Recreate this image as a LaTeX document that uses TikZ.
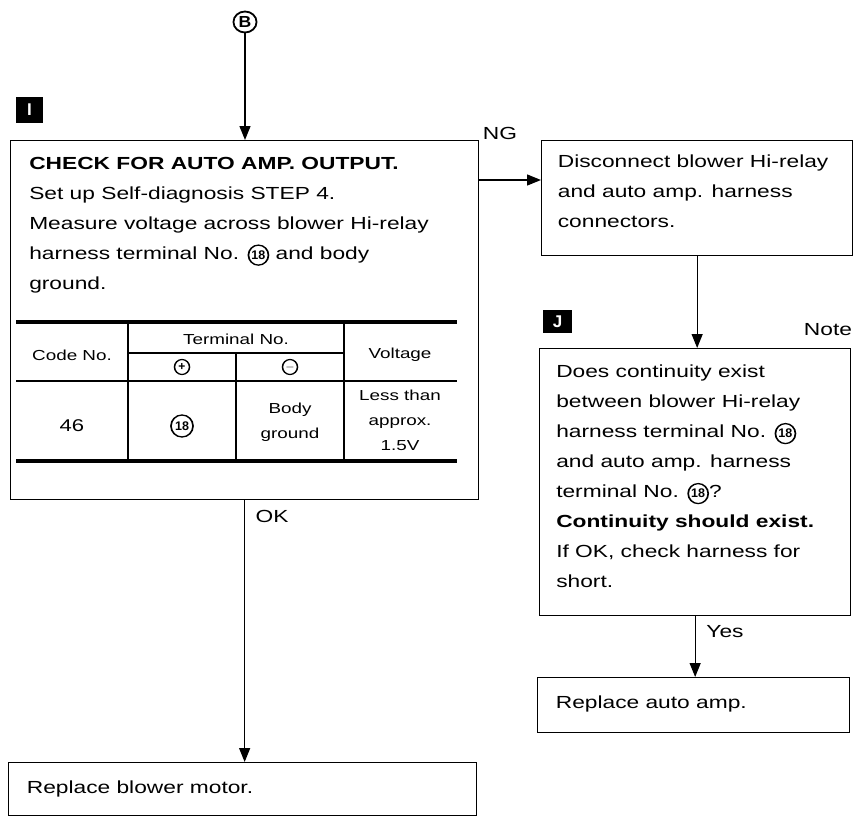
\documentclass[tikz,border=0pt]{standalone}
\usepackage{fontspec}
\setmainfont{Liberation Sans}
\usepackage{tikz}
\usetikzlibrary{arrows.meta}

\newcommand{\cnum}[2][20pt]{\tikz[baseline=(c.base)]\node[circle,draw,line width=1.3pt,minimum size=#1,inner sep=0pt,xscale=0.77,font=\bfseries\fontsize{12.5}{12.5}\selectfont] (c) {#2};}
\newcommand{\csign}[1]{\tikz[baseline=(s.base)]\node[circle,draw,line width=1.2pt,minimum size=15pt,inner sep=0pt,xscale=0.77,font=\bfseries\fontsize{12}{12}\selectfont] (s) {#1};}

\begin{document}
\begin{tikzpicture}[x=1pt,y=-1pt,>={Triangle[length=14pt,width=11pt]},line width=1.3pt,
    box/.style={draw,inner sep=0pt,anchor=north west},
    txt/.style={anchor=north west,align=left,inner sep=0pt,xscale=1.3,font=\fontsize{17.5}{30}\selectfont},
    cell/.style={align=center,inner sep=0pt,xscale=1.3,font=\fontsize{14.5}{25}\selectfont},
    lbl/.style={inner sep=0pt,xscale=1.3,font=\fontsize{17.5}{20}\selectfont},
    stepmark/.style={fill=black,text=white,inner sep=0pt,font=\bfseries\fontsize{17}{17}\selectfont}]
    \useasboundingbox (0,0) rectangle (859,817);
    \node[circle,draw,line width=1.8pt,minimum size=21pt,inner sep=0pt,xscale=1.1,font=\bfseries\fontsize{16}{16}\selectfont] (B) at (245,22) {B};
    \node[stepmark,minimum width=27pt,minimum height=26pt] (mI) at (29.5,110) {I};
    \node[box,minimum width=468pt,minimum height=359pt] (chk) at (10,140) {};
    \node[txt] (chk-t) at (29,157) {\textbf{CHECK FOR AUTO AMP. OUTPUT.}\\Set up Self-diagnosis STEP 4.\\Measure voltage across blower Hi-relay\\harness terminal No. \cnum{18} and body\\ground.};
    \draw[line width=4pt] (16,322) -- (457,322);
    \draw (16,381) -- (457,381);
    \draw (128,353) -- (344,353);
    \draw (128,322) -- (128,461);
    \draw (236,353) -- (236,461);
    \draw (344,322) -- (344,461);
    \draw[line width=4pt] (16,461) -- (457,461);
    \node[cell] (c-code) at (72,355) {Code No.};
    \node[cell] (c-term) at (236,339) {Terminal No.};
    \node[cell] (c-plus) at (182,367) {\csign{+}};
    \node[cell] (c-minus) at (290,367) {\csign{$-$}};
    \node[cell] (c-volt) at (400,355) {Voltage};
    \node[cell,font=\fontsize{17}{20}\selectfont] (c-46) at (72,426) {46};
    \node[cell] (c-18) at (182,426) {\cnum[22pt]{18}};
    \node[cell] (c-gnd) at (290,422) {Body\\ground};
    \node[cell] (c-less) at (400,420) {Less than\\approx.\\1.5V};
    \node[box,minimum width=468pt,minimum height=53pt] (motor) at (8,762) {};
    \node[txt] (motor-t) at (26,780.5) {Replace blower motor.};
    \node[box,minimum width=311pt,minimum height=115pt] (disc) at (541,140) {};
    \node[txt] (disc-t) at (557,154.5) {Disconnect blower Hi-relay\\and auto amp. harness\\connectors.};
    \node[stepmark,minimum width=29pt,minimum height=23pt] (mJ) at (557.5,321.5) {J};
    \node[box,minimum width=311pt,minimum height=267pt] (jchk) at (539,348) {};
    \node[txt] (jchk-t) at (556,365) {Does continuity exist\\between blower Hi-relay\\harness terminal No. \cnum{18}\\and auto amp. harness\\terminal No. \cnum{18}?\\\textbf{Continuity should exist.}\\If OK, check harness for\\short.};
    \node[box,minimum width=312pt,minimum height=55pt] (amp) at (537,677) {};
    \node[txt] (amp-t) at (555,695.5) {Replace auto amp.};
    \draw[->] (B) -- (B |- chk.north);
    \draw[->] (chk.south) -- (chk.south |- motor.north);
    \node[lbl] (ok) at (272,516) {OK};
    \coordinate (ng) at ([yshift=-40pt]chk.north east);
    \draw[->] (ng) -- (ng -| disc.west);
    \node[lbl] (ng-l) at (500,133) {NG};
    \draw[->] (disc.south) -- (disc.south |- jchk.north);
    \node[lbl] (note) at (828,330) {Note};
    \draw[->] (jchk.south) -- (jchk.south |- amp.north);
    \node[lbl] (yes) at (725,632) {Yes};
\end{tikzpicture}
\end{document}
